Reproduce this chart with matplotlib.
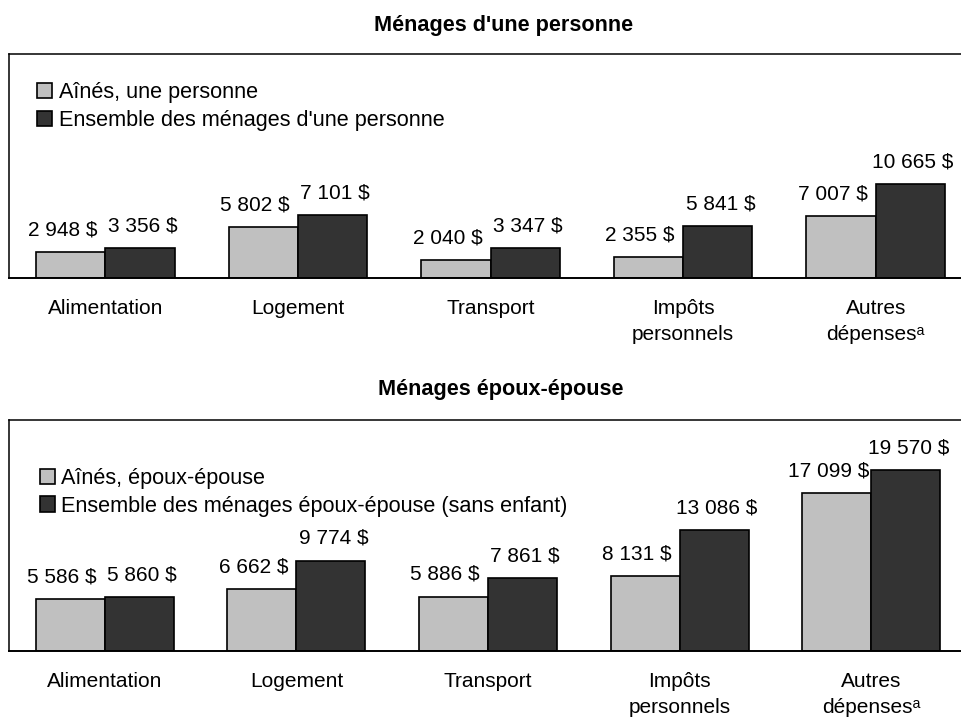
import matplotlib
matplotlib.use("Agg")
import matplotlib.pyplot as plt
import numpy as np

plt.rcParams.update({
    "font.family": ["Liberation Sans", "DejaVu Sans"],
})

# Data
categories = ["Alimentation", "Logement", "Transport", "Impôts\npersonnels",
              "Autres\ndépensesᵃ"]

single_title = "Ménages d'une personne"
single_labels = ["Aînés, une personne", "Ensemble des ménages d'une personne"]
seniors_single = [2948, 5802, 2040, 2355, 7007]
all_single = [3356, 7101, 3347, 5841, 10665]

couple_title = "Ménages époux-épouse"
couple_labels = ["Aînés, époux-épouse",
                 "Ensemble des ménages époux-épouse (sans enfant)"]
seniors_couple = [5586, 6662, 5886, 8131, 17099]
all_couple = [5860, 9774, 7861, 13086, 19570]

GREY = "#c0c0c0"
DARK = "#333333"
FS = 15


def fmt(v):
    return f"{v:,}".replace(",", " ") + " $"


def panel(ax, seniors, everyone, labels, ymax, leg_anchor):
    x = np.arange(len(categories))
    w = 0.36
    b1 = ax.bar(x - w / 2, seniors, w, color=GREY, edgecolor="black",
                linewidth=1.2, label=labels[0])
    b2 = ax.bar(x + w / 2, everyone, w, color=DARK, edgecolor="black",
                linewidth=1.2, label=labels[1])
    for bars, dx in ((b1, -6), (b2, 2)):
        for b in bars:
            ax.annotate(fmt(int(b.get_height())),
                        (b.get_x() + b.get_width() / 2, b.get_height()),
                        xytext=(dx, 16), textcoords="offset points",
                        ha="center", va="center", fontsize=FS)
    ax.set_xlim(-0.5, 4.5)
    ax.set_ylim(0, ymax)
    ax.set_yticks([])
    ax.set_xticks(x)
    ax.set_xticklabels(categories, fontsize=FS, linespacing=1.45)
    ax.tick_params(axis="x", length=0, pad=15)
    for s in ("left", "top", "right"):
        ax.spines[s].set_linewidth(1.1)
    ax.spines["bottom"].set_linewidth(1.4)
    ax.legend(loc="upper left", bbox_to_anchor=leg_anchor, frameon=False,
              fontsize=15.6, handlelength=0.7, handleheight=0.7,
              handletextpad=0.3, labelspacing=0.3, borderpad=0,
              borderaxespad=0)


fig = plt.figure(figsize=(9.61, 7.2), dpi=100)
W, H = 961, 720

ax1 = fig.add_axes([9 / W, 1 - 278 / H, 963 / W, 224 / H])
panel(ax1, seniors_single, all_single, single_labels, 25400, (0.029, 0.874))

ax2 = fig.add_axes([9 / W, 1 - 651 / H, 958 / W, 231 / H])
panel(ax2, seniors_couple, all_couple, couple_labels, 25000, (0.032, 0.792))

fig.text(0.524, 1 - 25 / H, single_title, ha="center", va="center",
         fontsize=15.6, fontweight="bold")
fig.text(0.521, 1 - 390 / H, couple_title, ha="center", va="center",
         fontsize=15.6, fontweight="bold")

fig.savefig("out.png", dpi=100)
